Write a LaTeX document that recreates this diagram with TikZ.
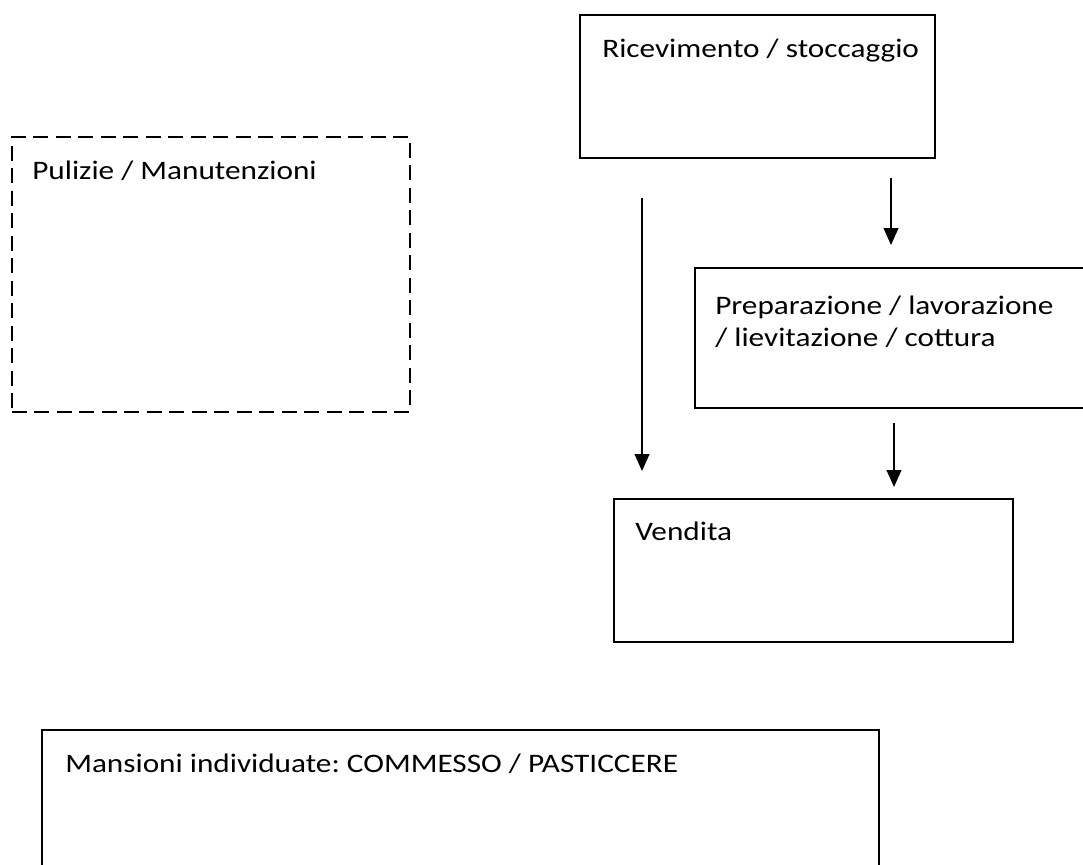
\documentclass[tikz,border=0pt]{standalone}
\usepackage{fontspec}
\setmainfont{Carlito}[FakeStretch=1.17]
\usetikzlibrary{arrows.meta,fit}
\frenchspacing

\begin{document}
\begin{tikzpicture}[x=0.025cm, y=-0.025cm, font=\fontsize{19pt}{22.8pt}\selectfont]
%% coordinates are in pixels of the scanned page, y grows downwards
\tikzstyle{arc}=[-{Triangle[length=12pt,width=10.5pt]},line width=1pt]
\tikzstyle{box}=[draw,line width=1.2pt,inner sep=0pt]
\tikzstyle{dashedbox}=[box,dash pattern=on 10.5pt off 5.5pt]
\tikzstyle{lbl}=[inner sep=0pt,anchor=base west,align=left]
\useasboundingbox (0,0) rectangle (1083,865);
%% boxes %%
\node[box, fit={(580,15) (935,158)}] (Ricevimento) {};
\node[dashedbox, fit={(12,137) (410,412)}] (Pulizie) {};
\node[box, fit={(695,268) (1095,408)}] (Preparazione) {};
\node[box, fit={(614,499) (1013,642)}] (Vendita) {};
\node[box, fit={(42,730) (879,880)}] (Mansioni) {};
%% label for box Ricevimento
\node[lbl] (RicevimentoT) at (602,58) {Ricevimento / stoccaggio};
%% label for box Pulizie
\node[lbl] (PulizieT) at (32,180) {Pulizie / Manutenzioni};
%% label for box Preparazione (anchored at its last line)
\node[lbl] (PreparazioneT) at (715,347) {Preparazione / lavorazione\\/ lievitazione / cottura};
%% label for box Vendita
\node[lbl] (VenditaT) at (635,540) {Vendita};
%% label for box Mansioni
\node[lbl] (MansioniT) at (65,772) {Mansioni individuate: COMMESSO / PASTICCERE};
%% free ends of the arrows
\coordinate (A1s) at (642,198);
\coordinate (A1e) at (642,471);
\coordinate (A2s) at (891,178);
\coordinate (A2e) at (891,245);
\coordinate (A3s) at (894,423);
\coordinate (A3e) at (894,487);
\draw[arc] (A1s) -- (A1e);
\draw[arc] (A2s) -- (A2e);
\draw[arc] (A3s) -- (A3e);
\end{tikzpicture}
\end{document}
